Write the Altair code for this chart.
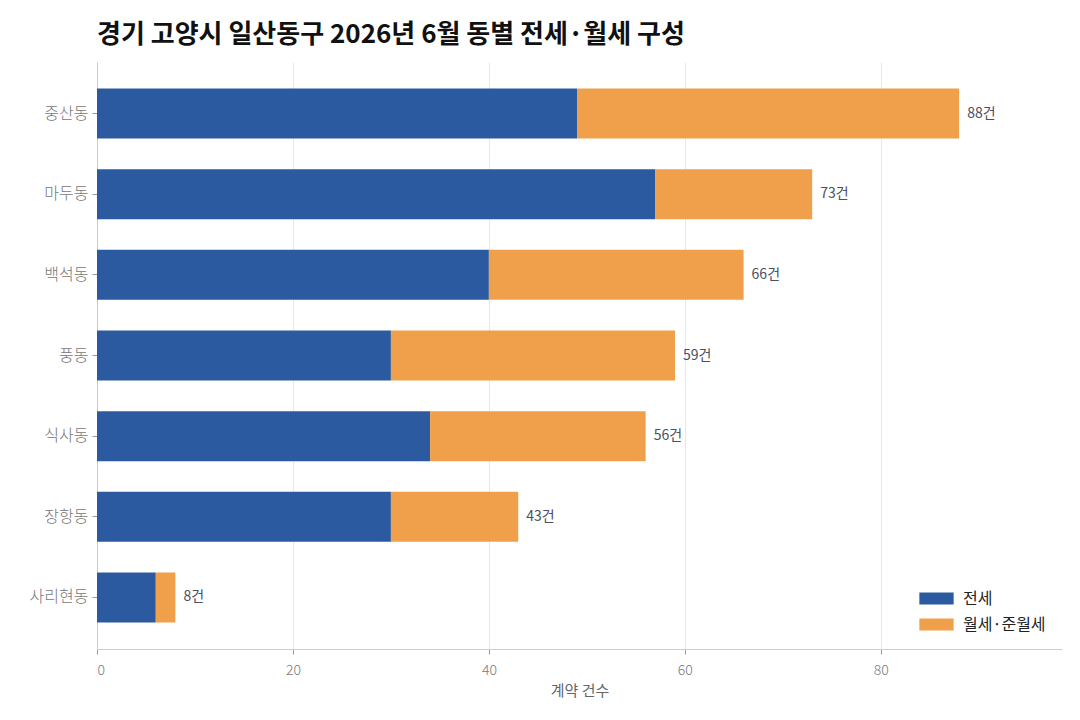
import altair as alt
import pandas as pd

# 동별 계약 건수 (2026년 6월, 일산동구)
dongs = ["중산동", "마두동", "백석동", "풍동", "식사동", "장항동", "사리현동"]
jeonse = [49, 57, 40, 30, 34, 30, 6]
wolse = [39, 16, 26, 29, 22, 13, 2]
totals = [j + w for j, w in zip(jeonse, wolse)]

kinds = ["전세", "월세·준월세"]
colors = ["#2C5AA0", "#F0A04B"]

rows = []
for d, j, w in zip(dongs, jeonse, wolse):
    rows.append({"dong": d, "kind": "전세", "count": j, "order": 0})
    rows.append({"dong": d, "kind": "월세·준월세", "count": w, "order": 1})
df = pd.DataFrame(rows)

tot_df = pd.DataFrame({"dong": dongs, "total": totals})
tot_df["label"] = tot_df["total"].astype(str) + "건"

FONT = "Noto Sans CJK KR"

y_enc = alt.Y(
    "dong:N",
    sort=dongs,
    title=None,
    scale=alt.Scale(paddingInner=0.38, paddingOuter=0.33),
    axis=alt.Axis(
        labelColor="#777777",
        labelFontSize=16,
        labelFontWeight=300,
        labelPadding=4,
        tickColor="#999999",
        tickSize=5,
        domainColor="#cccccc",
        grid=False,
        minExtent=84,
    ),
)

bars = alt.Chart(df).mark_bar().encode(
    y=y_enc,
    x=alt.X(
        "sum(count):Q",
        stack="zero",
        title="계약 건수",
        scale=alt.Scale(domain=[0, 98.5], nice=False),
        axis=alt.Axis(
            values=[0, 20, 40, 60, 80],
            labelColor="#777777",
            labelFontSize=14,
            labelFontWeight=300,
            labelPadding=9,
            titleColor="#666666",
            titleFontSize=15,
            titleFontWeight="normal",
            titlePadding=6,
            tickColor="#999999",
            domainColor="#cccccc",
            gridColor="#e8e8e8",
        ),
    ),
    color=alt.Color(
        "kind:N",
        scale=alt.Scale(domain=kinds, range=colors),
        sort=kinds,
        legend=alt.Legend(
            title=None,
            orient="bottom-right",
            symbolType="M-1.4,-0.5H1.4V0.5H-1.4Z",
            symbolSize=600,
            symbolStrokeWidth=0,
            labelFontSize=16,
            labelColor="#222222",
            labelOffset=14,
            rowPadding=5,
            offset=16,
        ),
    ),
    order=alt.Order("order:Q"),
)

labels = alt.Chart(tot_df).mark_text(
    align="left", dx=8, fontSize=14, color="#4a5060", font=FONT
).encode(
    y=alt.Y("dong:N", sort=dongs),
    x=alt.X("total:Q"),
    text="label:N",
)

chart = (
    alt.layer(bars, labels)
    .properties(
        width=965,
        height=587,
        padding={"left": 5, "top": 14, "right": 5, "bottom": 5},
        title=alt.TitleParams(
            "경기 고양시 일산동구 2026년 6월 동별 전세·월세 구성",
            anchor="start",
            frame="group",
            fontSize=26,
            fontWeight="bold",
            color="#111111",
            font=FONT,
            offset=14,
        ),
    )
    .configure(font=FONT)
    .configure_view(stroke=None)
)

chart.save("out.html", embed_options={"renderer": "svg", "actions": False})
